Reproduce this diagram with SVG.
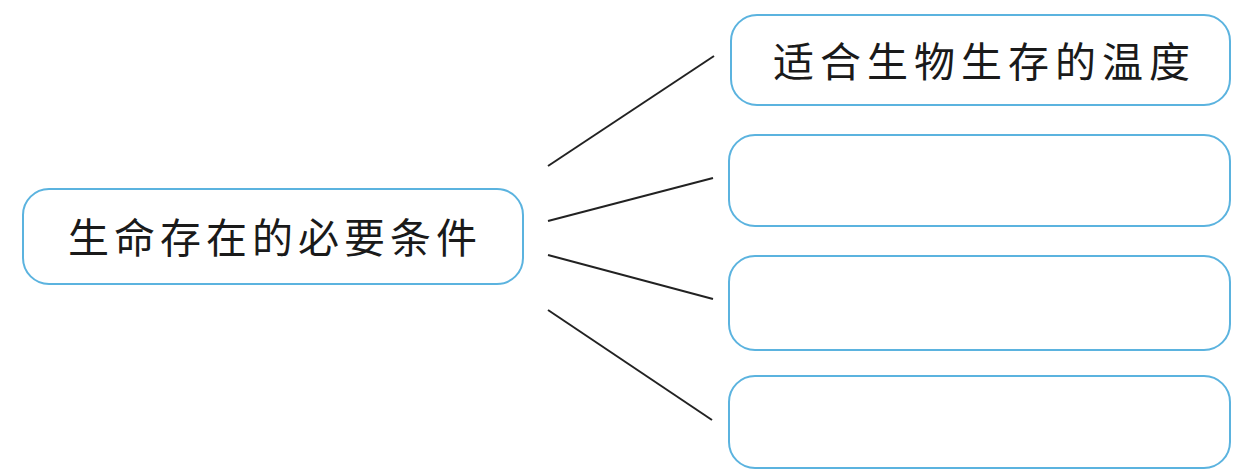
<svg xmlns="http://www.w3.org/2000/svg" width="1248" height="475" viewBox="0 0 1248 475">
<style>
.box{fill:#fff;stroke:#5bb3df;stroke-width:2}
.t{font-family:"Noto Sans CJK SC","Noto Sans CJK JP",sans-serif;font-size:41px;fill:#1a1a1a;letter-spacing:5px}
.c{stroke:#222;stroke-width:2;fill:none}
</style>
<rect width="1248" height="475" fill="#fff"/>
<g id="connectors">
<line class="c" x1="548" y1="166" x2="714" y2="56"/>
<line class="c" x1="548" y1="221" x2="713" y2="178"/>
<line class="c" x1="548" y1="255" x2="713" y2="299"/>
<line class="c" x1="548" y1="310" x2="712" y2="420"/>
</g>
<g id="root">
<rect class="box" x="23" y="189" width="500" height="95" rx="26"/>
<text class="t" x="68" y="253">生命存在的必要条件</text>
</g>
<g id="n1">
<rect class="box" x="731" y="15" width="499" height="90" rx="26"/>
<text class="t" x="773" y="77" style="letter-spacing:6px">适合生物生存的温度</text>
</g>
<g id="n2">
<rect class="box" x="729" y="135" width="501" height="91" rx="26"/>
</g>
<g id="n3">
<rect class="box" x="729" y="256" width="501" height="94" rx="26"/>
</g>
<g id="n4">
<rect class="box" x="729" y="376" width="501" height="92" rx="26"/>
</g>
</svg>
